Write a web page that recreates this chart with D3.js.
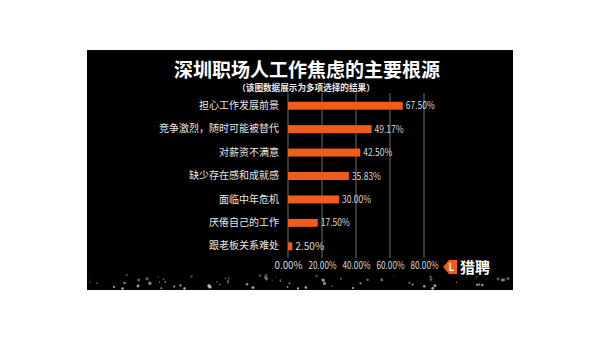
<!DOCTYPE html>
<html><head><meta charset="utf-8">
<script src="https://cdn.jsdelivr.net/npm/d3@7/dist/d3.min.js"></script>
<style>html,body{margin:0;padding:0;background:#fff;}svg{display:block;}</style>
</head><body>
<script>
const categories = ["担心工作发展前景","竞争激烈，随时可能被替代","对薪资不满意","缺少存在感和成就感","面临中年危机","厌倦自己的工作","跟老板关系难处"];
const values = [67.50, 49.17, 42.50, 35.83, 30.00, 17.50, 2.50];
const tickValues = [0, 20, 40, 60, 80];
const title = "深圳职场人工作焦虑的主要根源";
const subtitle = "（该图数据展示为多项选择的结果）";

const W = 600, H = 340;
const svg = d3.select("body").append("svg").attr("width", W).attr("height", H);
const font = "'Noto Sans CJK SC','Microsoft YaHei',sans-serif";

// black panel
svg.append("rect").attr("x", 87).attr("y", 50).attr("width", 426).attr("height", 240).attr("fill", "#000");

// decorative starry dots along bottom (deterministic)
const dots = d3.range(70).map(i => {
  const a = Math.sin(i * 12.9898) * 43758.5453, b = Math.sin(i * 78.233) * 12345.678;
  const fx = a - Math.floor(a), fy = b - Math.floor(b);
  return {x: 90 + fx * 420, y: 275 + fy * 14, r: 0.6 + ((fx * 7) % 1) * 1.1, o: 0.25 + fy * 0.6};
});
svg.append("g").selectAll("circle").data(dots).join("circle")
  .attr("cx", d => d.x).attr("cy", d => d.y).attr("r", d => d.r)
  .attr("fill", "#ddd").attr("opacity", d => d.o);

const x = d3.scaleLinear().domain([0, 80]).range([288, 424]);
const y = d3.scaleBand().domain(categories).range([94, 258]).paddingInner(0.66).paddingOuter(0.33);

// gridlines
svg.append("g").selectAll("line").data(tickValues).join("line")
  .attr("x1", d => x(d)).attr("x2", d => x(d)).attr("y1", 93).attr("y2", 258)
  .attr("stroke", "#8a8a8a").attr("stroke-width", 0.8);

// x axis labels
const xAxis = d3.axisBottom(x).tickValues(tickValues).tickSize(0).tickPadding(0)
  .tickFormat(d => d3.format(".2f")(d) + "%");
const gx = svg.append("g").attr("transform", "translate(0,262)").call(xAxis);
gx.select(".domain").remove();
gx.selectAll("text").attr("fill", "#d8d8d8").attr("font-size", 10).attr("font-family", font)
  .attr("textLength", 28).attr("lengthAdjust", "spacingAndGlyphs");

// category axis
const yAxis = d3.axisLeft(y).tickSize(0).tickPadding(9);
const gy = svg.append("g").attr("transform", "translate(288,0)").call(yAxis);
gy.select(".domain").remove();
gy.selectAll("text").attr("fill", "#e6e6e6").attr("font-size", 10).attr("font-family", font);

// bars
svg.append("g").selectAll("rect").data(values).join("rect")
  .attr("x", x(0)).attr("y", (d, i) => y(categories[i]))
  .attr("width", d => x(d) - x(0)).attr("height", y.bandwidth())
  .attr("fill", "#ef5c1c");

// value labels
svg.append("g").selectAll("text").data(values).join("text")
  .attr("x", d => x(d) + 3).attr("y", (d, i) => y(categories[i]) + y.bandwidth() / 2)
  .attr("dy", "0.35em").attr("fill", "#d8d8d8").attr("font-size", 10).attr("font-family", font)
  .attr("textLength", 29).attr("lengthAdjust", "spacingAndGlyphs")
  .text(d => d3.format(".2f")(d) + "%");

// title
svg.append("text").attr("x", 307).attr("y", 77).attr("text-anchor", "middle")
  .attr("fill", "#fff").attr("font-size", 19).attr("font-weight", "bold").attr("font-family", font)
  .text(title);
svg.append("text").attr("x", 306).attr("y", 91).attr("text-anchor", "middle")
  .attr("fill", "#e8e8e8").attr("font-size", 8.6).attr("font-weight", "bold").attr("font-family", font)
  .text(subtitle);

// logo
const lg = svg.append("g").attr("transform", "translate(450,267)");
lg.append("path").attr("d", "M-7,0 L-1,-7 L7,-7 L7,7 L-1,7 Z").attr("fill", "#ef5c1c");
lg.append("text").attr("x", 1.5).attr("y", 0).attr("dy", "0.36em").attr("text-anchor", "middle")
  .attr("fill", "#fff").attr("font-size", 10).attr("font-weight", "bold").attr("font-family", font).text("L");
svg.append("text").attr("x", 460).attr("y", 268).attr("dy", "0.36em")
  .attr("fill", "#fff").attr("font-size", 15).attr("font-weight", "bold").attr("font-family", font).text("猎聘");
</script>
</body></html>
